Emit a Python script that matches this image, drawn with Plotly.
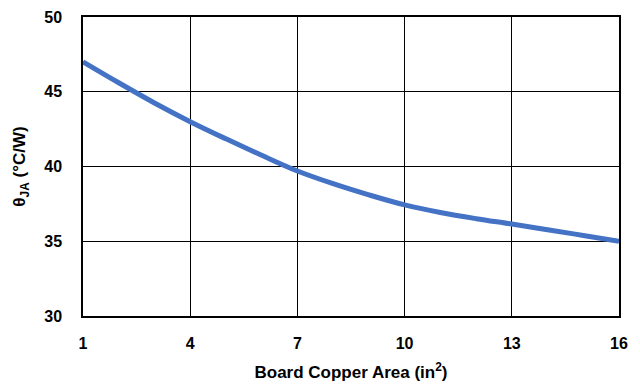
import plotly.graph_objects as go

copper_area = [1, 2, 3, 4, 5, 6, 7, 8, 9, 10, 11, 12, 13, 14, 15, 16]
theta_ja = [47.0, 45.6, 44.25, 43.0, 41.85, 40.75, 39.7, 38.85, 38.1, 37.43, 36.92, 36.51, 36.15, 35.77, 35.39, 35.0]

x_ticks = [1, 4, 7, 10, 13, 16]
y_ticks = [30, 35, 40, 45, 50]

fig = go.Figure()
fig.add_trace(go.Scatter(
    x=copper_area, y=theta_ja, mode="lines",
    line=dict(color="#4472C4", width=5, shape="spline"),
    showlegend=False, hoverinfo="skip",
))

tick_font = dict(family="Liberation Sans, Arial, sans-serif", size=16, color="black")
title_font = dict(family="Liberation Sans, Arial, sans-serif", size=17, color="black")

fig.update_layout(
    template="none",
    width=640, height=385,
    margin=dict(l=83, r=21, t=17, b=69, autoexpand=False),
    paper_bgcolor="white", plot_bgcolor="white",
    font=tick_font,
)
fig.update_xaxes(
    range=[1, 16], tickvals=x_ticks, ticktext=[f"<b>{v}</b>" for v in x_ticks],
    tickfont=tick_font, automargin=False,
    showgrid=True, gridcolor="black", gridwidth=1,
    showline=True, linecolor="black", linewidth=1.5, mirror=True,
    zeroline=False, ticks="", ticklabelstandoff=12,
    title=dict(text="<b>Board Copper Area (in<sup>2</sup>)</b>", standoff=15, font=title_font),
)
fig.update_yaxes(
    range=[30, 50], tickvals=y_ticks, ticktext=[f"<b>{v}</b>" for v in y_ticks],
    tickfont=tick_font, automargin=False,
    showgrid=True, gridcolor="black", gridwidth=1,
    showline=True, linecolor="black", linewidth=1.5, mirror=True,
    zeroline=False, ticks="", ticklabelstandoff=16,
    title=dict(text="<b>θ<sub>JA</sub> (°C/W)</b>", standoff=14, font=title_font),
)

fig.write_html(
    "out.html",
    config={"displayModeBar": False},
    post_script="document.body.style.margin='0';document.body.style.padding='0';",
)
